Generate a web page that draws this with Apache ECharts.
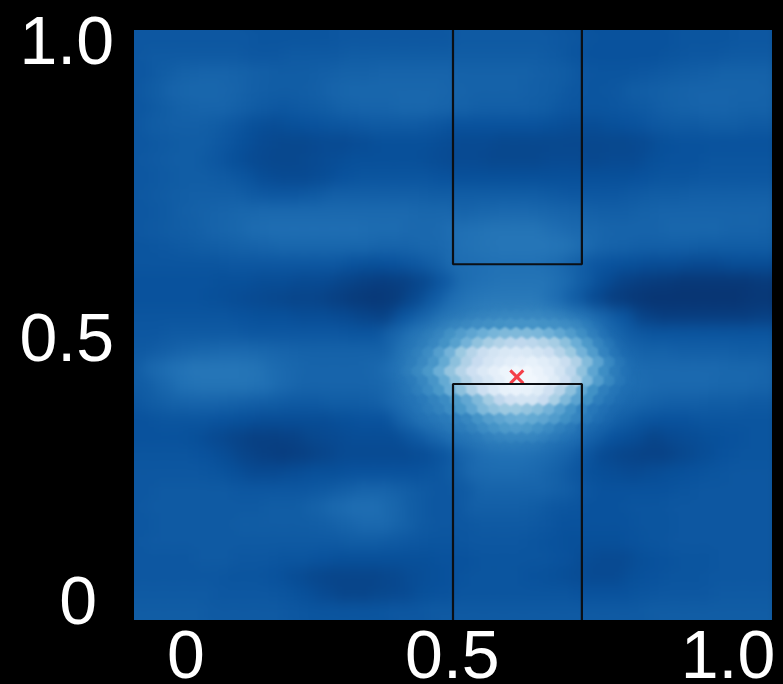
<!DOCTYPE html>
<html><head><meta charset="utf-8">
<style>html,body{margin:0;padding:0;background:#000}#c{width:783px;height:684px}
canvas[data-zr-dom-id="zr_0"]{filter:blur(7px);clip-path:inset(30px 11px 64px 134px)}
canvas[data-zr-dom-id="zr_1"]{filter:blur(1px);-webkit-mask-image:radial-gradient(ellipse 124px 74px at 517px 376px,#000 68%,transparent 100%);mask-image:radial-gradient(ellipse 124px 74px at 517px 376px,#000 68%,transparent 100%)}
canvas[data-zr-dom-id="zr_2"]{filter:blur(0.6px)}
</style>
<script src="https://cdn.jsdelivr.net/npm/echarts@6/dist/echarts.min.js"></script>
</head><body><div id="c"></div>
<script>
// Estimated field values (0 = darkest blue, 100 = white), top row first.
const coarseField = [
[15,15,15,15,15,15,14,14,14,14,15,15,15,15,15,15,16,16,16,16,16,15,14,13,13,13,13,14,14,14,15,15,15],
[15,16,16,16,16,16,15,15,16,16,16,17,17,17,17,17,17,17,17,17,17,16,14,13,13,13,13,14,15,15,16,16,16],
[15,17,19,20,20,19,18,17,17,18,19,19,20,20,20,20,19,19,19,19,18,17,15,14,14,15,16,17,18,19,19,19,18],
[15,17,20,21,21,20,18,17,17,18,20,21,21,21,21,21,20,19,19,19,18,17,15,14,15,17,18,19,20,20,20,20,19],
[15,17,19,20,20,18,16,15,16,17,19,20,20,21,21,20,19,18,18,18,17,15,14,14,15,16,18,19,20,20,19,19,18],
[15,17,18,18,17,15,12,11,12,13,14,15,16,16,16,15,13,13,13,13,13,12,11,11,12,13,15,16,16,17,17,16,16],
[15,16,17,17,15,12,10,9,9,10,10,11,12,12,12,11,10,10,9,9,9,9,9,9,9,10,12,13,13,13,13,13,13],
[15,16,17,17,15,12,10,9,9,10,11,12,12,12,12,11,10,10,9,9,9,10,10,9,10,10,12,13,13,14,14,14,14],
[15,16,17,17,16,14,11,10,10,11,13,14,14,14,14,13,12,12,12,12,12,12,12,12,12,13,14,14,15,15,15,15,15],
[15,16,17,18,18,18,16,15,15,16,18,18,18,18,18,17,17,17,17,17,17,16,15,15,15,16,17,17,18,18,18,18,18],
[15,16,18,19,20,21,22,22,22,22,22,22,22,22,21,21,20,21,22,22,21,20,19,18,18,19,20,20,20,20,20,20,19],
[15,16,17,18,20,21,23,24,24,24,24,24,23,23,22,22,24,25,26,26,26,24,22,21,20,20,20,21,21,21,20,20,19],
[14,15,16,17,18,19,20,21,21,21,21,21,20,20,21,22,25,26,27,27,27,26,23,20,19,18,18,18,17,17,17,17,17],
[14,14,14,14,14,15,15,15,15,15,15,13,12,13,15,18,23,24,25,25,25,23,19,15,13,12,11,11,10,10,11,11,11],
[13,13,13,13,12,12,11,11,10,10,8,6,5,6,9,15,23,25,26,26,26,23,17,11,7,5,4,3,3,3,3,4,4],
[13,13,13,13,12,11,10,9,8,8,6,4,3,4,9,16,24,27,28,28,28,24,17,10,5,3,2,2,2,2,2,3,3],
[14,14,14,14,14,13,12,12,11,11,10,8,7,14,20,26,29,32,33,33,33,30,26,20,14,7,5,5,5,5,5,6,7],
[15,15,16,16,16,16,15,15,15,15,15,14,14,20,26,31,39,47,53,55,54,49,41,30,21,16,14,14,14,14,14,14,14],
[16,18,20,21,22,22,21,20,19,19,19,19,19,26,33,47,65,77,85,85,80,66,50,32,22,19,19,18,18,18,17,17,17],
[17,22,25,27,27,27,26,23,21,20,20,20,21,25,33,47,66,80,91,96,96,85,68,46,30,23,22,22,22,22,21,21,20],
[17,21,25,26,26,26,25,22,20,20,20,20,21,26,33,44,62,80,93,95,85,68,50,33,25,23,22,22,22,21,21,20,19],
[15,17,19,20,20,19,18,17,16,16,17,17,18,22,27,33,42,53,68,76,72,58,42,30,24,21,19,18,18,17,17,16,16],
[13,14,14,14,13,12,11,11,11,11,12,13,13,20,26,30,34,43,49,48,42,34,27,22,17,14,13,13,14,14,14,14,14],
[13,13,13,12,10,8,6,6,7,9,10,11,11,11,15,20,25,28,32,33,32,27,24,18,13,11,8,10,11,12,13,14,14],
[14,14,14,13,11,8,6,5,6,8,10,10,10,10,11,14,20,24,25,25,23,20,15,10,8,7,7,9,11,13,14,14,15],
[15,15,15,15,14,12,10,10,11,12,12,13,13,13,13,14,17,22,23,23,22,19,15,12,11,10,11,12,13,14,15,15,15],
[15,16,16,16,16,15,15,15,15,16,18,20,20,18,16,15,16,20,20,20,20,18,15,13,13,13,13,14,15,15,15,15,15],
[15,16,16,16,16,16,16,17,17,19,22,24,24,21,17,15,15,18,18,18,17,15,14,13,13,14,14,15,15,15,15,15,15],
[15,16,16,16,16,17,17,17,17,18,20,22,22,19,16,15,15,16,16,16,15,13,13,13,13,14,14,15,15,15,15,15,15],
[15,16,16,16,16,16,16,16,16,16,16,17,17,16,15,14,14,15,15,15,14,13,12,12,12,13,14,15,15,15,15,15,15],
[15,15,15,16,16,15,15,14,14,13,12,12,12,12,12,13,13,14,14,14,14,13,11,10,10,12,13,14,14,15,15,15,15],
[15,15,15,15,15,14,14,13,11,9,8,8,8,9,11,12,13,14,14,14,13,12,11,10,10,12,13,14,14,15,15,15,15],
[16,16,16,16,15,15,15,14,12,10,8,8,9,10,12,13,14,14,14,14,14,14,13,13,13,14,15,15,15,16,16,16,16],
[17,17,17,17,16,16,16,16,15,14,14,14,14,15,15,16,16,16,16,16,16,16,16,16,16,16,17,17,17,17,17,17,17]
];
// Finer estimate around the bright peak, top row first.
const peakField = [
[16,18,20,22,24,25,26,27,28,29,29,30,30,29,29,28,27,25,22,19,16,13,11],
[18,20,22,24,26,27,28,30,31,32,33,33,33,33,32,31,29,27,23,20,17,14,12],
[20,22,24,26,29,31,33,35,36,37,38,38,38,37,36,35,33,30,26,22,19,16,14],
[21,24,26,29,32,37,42,46,50,53,55,55,55,54,51,47,42,36,30,25,21,18,16],
[23,25,28,32,37,44,52,59,65,69,72,73,72,69,65,58,50,41,33,28,23,20,18],
[24,27,30,35,43,52,62,70,77,82,85,86,85,82,78,70,62,52,42,32,26,22,20],
[25,28,33,39,48,58,68,76,83,87,90,91,92,89,85,77,68,56,45,35,28,24,22],
[25,29,34,40,50,60,70,79,86,91,95,97,97,94,90,82,72,59,46,36,29,25,22],
[25,28,33,39,48,58,68,77,84,91,96,97,97,94,88,79,68,54,42,34,28,24,22],
[24,26,30,35,40,49,58,68,78,86,92,93,92,88,80,70,58,47,37,30,26,23,21],
[22,24,27,31,35,41,47,55,64,73,80,82,82,76,66,55,45,37,30,26,23,21,20],
[20,22,25,28,31,35,40,47,55,59,62,62,60,57,52,45,38,32,27,24,21,20,19],
[18,20,22,25,27,30,33,38,43,46,49,50,48,46,42,37,33,28,24,21,19,18,16],
[15,16,18,21,24,26,28,31,35,38,41,42,41,38,35,31,28,24,21,18,16,15,14],
[13,14,15,17,20,23,25,27,30,32,33,33,33,32,30,27,25,21,18,15,13,12,11],
[11,12,13,14,16,20,24,25,26,26,26,26,25,25,24,23,21,18,15,12,10,9,8]
];
const blues = ['#08306b','#08519c','#2171b5','#4292c6','#6baed6','#9ecae1','#c6dbef','#deebf7','#f7fbff'];
const gapLeft = 0.5, gapRight = 0.702, upperBarBottom = 0.603, lowerBarTop = 0.4;
const bestPoint = [0.6, 0.412];
const xTickPos = [0.0815, 0.499, 0.931], xTickText = ['0','0.5','1.0'];
const yTickPos = [0.0255, 0.47, 0.975], yTickText = ['0','0.5','1.0'];

const W = 638, H = 590;
const clampIdx = (i, n) => Math.max(0, Math.min(n - 1, i));
// pad repeats the edge cells outside the plot so that the smoothing does not fade at the frame
function hexData(field, x0, y0, w, h, pad) {
  const out = [], nr = field.length, nc = field[0].length;
  for (let r = -pad; r < nr + pad; r++) {
    for (let c = -pad; c < nc + pad; c++) {
      const v = field[clampIdx(r, nr)][clampIdx(c, nc)];
      const px = x0 + w * c + (Math.abs(r % 2) === 1 ? 0 : w / 2);
      out.push([px / W, 1 - (y0 + h * r) / H, v, w / W]);
    }
  }
  return out;
}
const coarse = hexData(coarseField, 0, 8.7, 20, 17.35, 3);
const fine = hexData(peakField, 261, 275, 11, 9.5, 0);

function renderHex(params, api) {
  const c = api.coord([api.value(0), api.value(1)]);
  const w = api.size([api.value(3), 0])[0];
  const hw = w / 2 + 0.3, r = w / 1.732 + 0.3;
  return { type: 'polygon', shape: { points: [
    [c[0], c[1] - r], [c[0] + hw, c[1] - r / 2], [c[0] + hw, c[1] + r / 2],
    [c[0], c[1] + r], [c[0] - hw, c[1] + r / 2], [c[0] - hw, c[1] - r / 2]
  ] }, style: { fill: api.visual('color') } };
}
const axisFont = { fontFamily: 'Liberation Sans', fontSize: 68, color: '#fff' };
const chart = echarts.init(document.getElementById('c'), null, { renderer: 'canvas' });
chart.setOption({
  backgroundColor: '#000', animation: false,
  grid: { left: 134, top: 30, width: W, height: H, outerBoundsMode: 'none', containLabel: false },
  visualMap: { show: false, min: 0, max: 100, dimension: 2, seriesIndex: [0, 1], inRange: { color: blues } },
  xAxis: { type: 'value', zlevel: 2, min: 0, max: 1, axisLine: { show: false }, axisTick: { show: false }, splitLine: { show: false },
    axisLabel: { ...axisFont, margin: 5, hideOverlap: false, customValues: xTickPos,
      formatter: v => xTickText[xTickPos.indexOf(v)] } },
  yAxis: { type: 'value', zlevel: 2, min: 0, max: 1, axisLine: { show: false }, axisTick: { show: false }, splitLine: { show: false },
    axisLabel: { ...axisFont, margin: 20, hideOverlap: false, customValues: yTickPos,
      formatter: v => { const t = yTickText[yTickPos.indexOf(v)]; return t === '0' ? '{z|' + t + '}' : t; },
      rich: { z: { ...axisFont, padding: [0, 17, 0, 0] } } } },
  series: [
    { type: 'custom', zlevel: 0, coordinateSystem: 'cartesian2d', clip: false, silent: true, data: coarse, renderItem: renderHex, encode: { x: 0, y: 1 } },
    { type: 'custom', zlevel: 1, coordinateSystem: 'cartesian2d', clip: false, silent: true, data: fine, renderItem: renderHex, encode: { x: 0, y: 1 } },
    { type: 'line', zlevel: 2, symbol: 'none', silent: true, lineStyle: { color: '#0b0f14', width: 2.2 },
      data: [[gapLeft, 1], [gapLeft, upperBarBottom], [gapRight, upperBarBottom], [gapRight, 1]] },
    { type: 'line', zlevel: 2, symbol: 'none', silent: true, lineStyle: { color: '#0b0f14', width: 2.2 },
      data: [[gapLeft, 0], [gapLeft, lowerBarTop], [gapRight, lowerBarTop], [gapRight, 0]] },
    { type: 'scatter', zlevel: 2, silent: true, symbol: 'path://M0 0L10 10M10 0L0 10', symbolSize: 13,
      itemStyle: { color: 'rgba(0,0,0,0)', borderColor: '#f5101c', borderWidth: 3 }, data: [bestPoint] }
  ]
});
</script></body></html>
